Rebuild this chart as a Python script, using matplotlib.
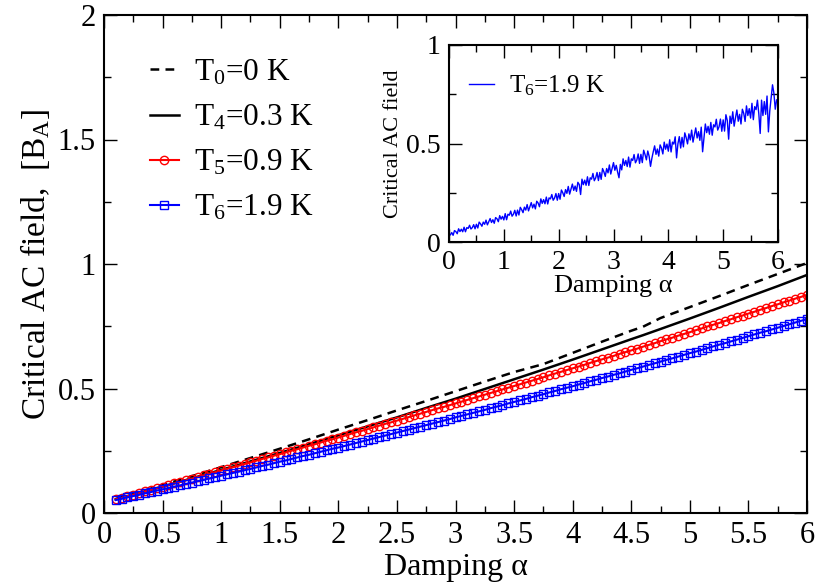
import numpy as np
import matplotlib
matplotlib.use("Agg")
import matplotlib.pyplot as plt
from matplotlib.ticker import MultipleLocator, FuncFormatter

plt.rcParams['font.family'] = ['Liberation Serif', 'DejaVu Serif']
plt.rcParams['mathtext.fontset'] = 'custom'
plt.rcParams['mathtext.rm'] = 'Liberation Serif'
plt.rcParams['mathtext.it'] = 'Liberation Serif:italic'

# damping values for the black curves (coarse sampling)
alpha_coarse = [0.10, 0.25, 0.50, 0.75, 1.00, 1.25, 1.50, 1.75, 2.00, 2.25, 2.50, 2.75,
                3.00, 3.25, 3.50, 3.75, 4.00, 4.25, 4.50, 4.60, 4.75, 5.00, 5.25, 5.50,
                5.75, 6.00]
field_T0 = [0.056, 0.077, 0.112, 0.148, 0.184, 0.221, 0.258, 0.296, 0.335, 0.373, 0.412, 0.450,
            0.489, 0.528, 0.566, 0.598, 0.643, 0.688, 0.732, 0.748, 0.783, 0.827, 0.871, 0.916,
            0.960, 1.004]
field_T4 = [0.055, 0.074, 0.106, 0.139, 0.173, 0.207, 0.241, 0.276, 0.312, 0.348, 0.384, 0.422,
            0.459, 0.498, 0.537, 0.576, 0.616, 0.657, 0.698, 0.714, 0.739, 0.781, 0.824, 0.868,
            0.911, 0.956]

# damping values for the marker curves (step 0.05 from 0.1 to 6)
alpha_fine = np.linspace(0.1, 6.0, 119)
field_T5 = [0.055, 0.061, 0.068, 0.074, 0.080, 0.087, 0.093, 0.100, 0.106, 0.112,
            0.119, 0.125, 0.132, 0.138, 0.145, 0.151, 0.158, 0.164, 0.171, 0.177,
            0.184, 0.190, 0.197, 0.203, 0.210, 0.217, 0.223, 0.230, 0.236, 0.243,
            0.250, 0.256, 0.263, 0.270, 0.276, 0.283, 0.290, 0.296, 0.303, 0.310,
            0.317, 0.324, 0.330, 0.337, 0.344, 0.351, 0.358, 0.364, 0.371, 0.378,
            0.385, 0.392, 0.399, 0.406, 0.413, 0.420, 0.426, 0.433, 0.440, 0.447,
            0.454, 0.461, 0.468, 0.475, 0.482, 0.489, 0.496, 0.503, 0.510, 0.517,
            0.524, 0.531, 0.538, 0.545, 0.553, 0.560, 0.567, 0.574, 0.581, 0.588,
            0.595, 0.603, 0.610, 0.617, 0.624, 0.631, 0.639, 0.646, 0.653, 0.660,
            0.668, 0.675, 0.682, 0.690, 0.697, 0.704, 0.712, 0.719, 0.726, 0.734,
            0.741, 0.749, 0.756, 0.763, 0.771, 0.778, 0.786, 0.793, 0.801, 0.808,
            0.816, 0.823, 0.831, 0.838, 0.846, 0.853, 0.861, 0.868, 0.876]
field_T6 = [0.052, 0.057, 0.063, 0.068, 0.073, 0.079, 0.084, 0.090, 0.095, 0.100,
            0.106, 0.111, 0.117, 0.122, 0.128, 0.133, 0.139, 0.144, 0.150, 0.155,
            0.161, 0.166, 0.172, 0.177, 0.183, 0.189, 0.194, 0.200, 0.206, 0.211,
            0.217, 0.223, 0.229, 0.234, 0.240, 0.246, 0.252, 0.258, 0.263, 0.269,
            0.275, 0.281, 0.287, 0.293, 0.299, 0.305, 0.311, 0.317, 0.323, 0.329,
            0.335, 0.341, 0.347, 0.353, 0.359, 0.365, 0.371, 0.377, 0.384, 0.390,
            0.396, 0.402, 0.408, 0.414, 0.421, 0.427, 0.433, 0.440, 0.446, 0.452,
            0.458, 0.465, 0.471, 0.477, 0.484, 0.490, 0.497, 0.503, 0.509, 0.516,
            0.522, 0.529, 0.535, 0.542, 0.548, 0.555, 0.561, 0.568, 0.575, 0.581,
            0.588, 0.595, 0.601, 0.608, 0.615, 0.621, 0.628, 0.635, 0.642, 0.648,
            0.655, 0.662, 0.669, 0.676, 0.682, 0.689, 0.696, 0.703, 0.710, 0.717,
            0.724, 0.730, 0.737, 0.744, 0.751, 0.758, 0.765, 0.772, 0.779]

# inset: single noisy run at T6 (step 0.025 from 0 to 6)
alpha_inset = np.linspace(0.0, 6.0, 241)
field_inset = [0.035, 0.036, 0.048, 0.034, 0.058, 0.053, 0.042, 0.067, 0.053, 0.065,
               0.052, 0.075, 0.052, 0.073, 0.069, 0.085, 0.066, 0.073, 0.088, 0.067,
               0.090, 0.071, 0.101, 0.092, 0.080, 0.101, 0.090, 0.111, 0.087, 0.103,
               0.119, 0.099, 0.113, 0.095, 0.124, 0.118, 0.103, 0.134, 0.116, 0.130,
               0.112, 0.144, 0.113, 0.141, 0.136, 0.157, 0.131, 0.141, 0.161, 0.132,
               0.162, 0.137, 0.176, 0.164, 0.149, 0.177, 0.162, 0.190, 0.158, 0.179,
               0.200, 0.173, 0.192, 0.168, 0.207, 0.198, 0.179, 0.219, 0.196, 0.215,
               0.194, 0.228, 0.193, 0.224, 0.219, 0.241, 0.212, 0.223, 0.246, 0.212,
               0.246, 0.217, 0.264, 0.250, 0.231, 0.266, 0.247, 0.282, 0.243, 0.269,
               0.294, 0.262, 0.284, 0.257, 0.303, 0.292, 0.241, 0.319, 0.291, 0.314,
               0.288, 0.331, 0.287, 0.326, 0.319, 0.348, 0.311, 0.325, 0.353, 0.312,
               0.353, 0.318, 0.373, 0.356, 0.333, 0.373, 0.351, 0.391, 0.345, 0.374,
               0.403, 0.364, 0.389, 0.355, 0.326, 0.394, 0.366, 0.422, 0.389, 0.414,
               0.383, 0.431, 0.380, 0.422, 0.414, 0.444, 0.402, 0.416, 0.447, 0.399,
               0.445, 0.403, 0.466, 0.444, 0.417, 0.462, 0.435, 0.384, 0.425, 0.458,
               0.488, 0.445, 0.472, 0.436, 0.493, 0.477, 0.447, 0.507, 0.471, 0.497,
               0.461, 0.519, 0.457, 0.507, 0.497, 0.534, 0.427, 0.499, 0.535, 0.477,
               0.531, 0.483, 0.554, 0.530, 0.498, 0.549, 0.518, 0.568, 0.507, 0.544,
               0.579, 0.528, 0.560, 0.516, 0.583, 0.458, 0.528, 0.599, 0.555, 0.587,
               0.547, 0.607, 0.542, 0.595, 0.584, 0.623, 0.568, 0.585, 0.624, 0.562,
               0.620, 0.563, 0.646, 0.617, 0.522, 0.639, 0.602, 0.661, 0.588, 0.631,
               0.670, 0.613, 0.648, 0.599, 0.674, 0.653, 0.612, 0.691, 0.642, 0.677,
               0.629, 0.704, 0.621, 0.687, 0.672, 0.720, 0.651, 0.551, 0.720, 0.642,
               0.713, 0.648, 0.741, 0.559, 0.666, 0.732, 0.798, 0.756, 0.674, 0.722,
               0.705]

labels = ['T$_0$=0 K', 'T$_4$=0.3 K', 'T$_5$=0.9 K', 'T$_6$=1.9 K']

fmt = FuncFormatter(lambda v, p: '%g' % v)


def style_axis(ax, xmaj, xmin, ymaj, ymin, size):
    ax.xaxis.set_major_locator(MultipleLocator(xmaj))
    ax.xaxis.set_minor_locator(MultipleLocator(xmin))
    ax.yaxis.set_major_locator(MultipleLocator(ymaj))
    ax.yaxis.set_minor_locator(MultipleLocator(ymin))
    ax.xaxis.set_major_formatter(fmt)
    ax.yaxis.set_major_formatter(fmt)
    ax.tick_params(which='both', direction='in', top=True, right=True, width=1.0)
    ax.tick_params(which='major', length=9.5, labelsize=size, pad=6)
    ax.tick_params(which='minor', length=5)
    for s in ax.spines.values():
        s.set_linewidth(1.5)


fig = plt.figure(figsize=(8.18, 5.85), dpi=100)
ax = fig.add_axes([104 / 818, 72 / 585, 703 / 818, 498 / 585])

ax.plot(alpha_coarse, field_T0, color='black', lw=1.8, dashes=(3.5, 2.5), label=labels[0])
ax.plot(alpha_coarse, field_T4, color='black', lw=1.8, label=labels[1])
ax.plot(alpha_fine, field_T5, color='red', lw=1.5, marker='o', ms=6, mfc='none', mew=1.0,
        label=labels[2])
ax.plot(alpha_fine, field_T6, color='blue', lw=1.5, marker='s', ms=5.5, mfc='none', mew=1.0,
        label=labels[3])

ax.set_xlim(0, 6)
ax.set_ylim(0, 2)
style_axis(ax, 0.5, 0.25, 0.5, 0.25, 22)
ax.set_xlabel('Damping α', fontsize=23, labelpad=2)
ax.set_ylabel('Critical AC field,  [B$_\\mathrm{A}$]', fontsize=24, labelpad=4)
ax.legend(loc='upper left', bbox_to_anchor=(0.066, 0.914), frameon=False, fontsize=22.5,
          handlelength=0.9, handletextpad=0.5, labelspacing=0.5, borderpad=0, borderaxespad=0)

# inset
axin = fig.add_axes([449 / 818, 343 / 585, 329 / 818, 197 / 585])
axin.plot(alpha_inset, field_inset, color='blue', lw=1.0, label=labels[3])
axin.set_xlim(0, 6)
axin.set_ylim(0, 1)
style_axis(axin, 1, 0.5, 0.5, 0.25, 20)
axin.set_xlabel('Damping α', fontsize=19, labelpad=0)
axin.set_ylabel('Critical AC field', fontsize=16, labelpad=2)
axin.legend(loc='upper left', bbox_to_anchor=(0.06, 0.855), frameon=False, fontsize=18,
            handlelength=1.0, handletextpad=0.6, borderpad=0, borderaxespad=0)

fig.savefig('out.png', dpi=100)
